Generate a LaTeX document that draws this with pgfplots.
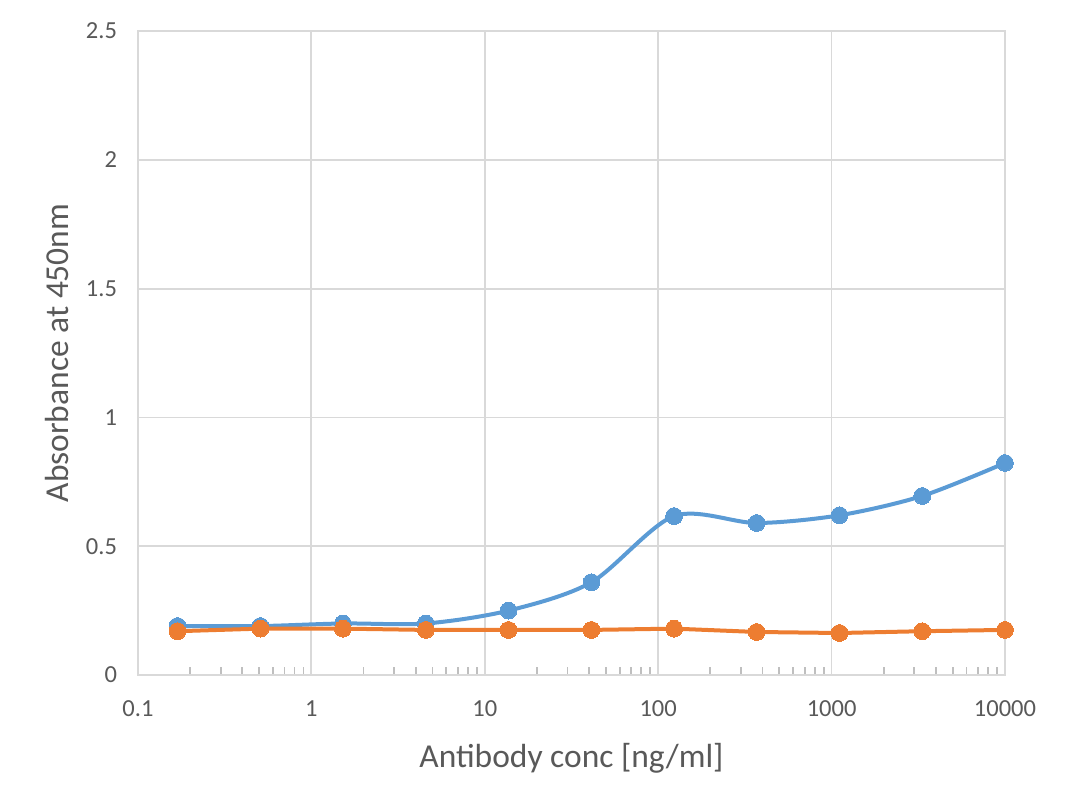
\documentclass[border=0pt]{standalone}
\usepackage{fontspec}
\setmainfont{Carlito}
\usepackage{pgfplots}
\pgfplotsset{compat=1.18}
\definecolor{eblue}{HTML}{5B9BD5}
\definecolor{eorange}{HTML}{ED7D31}
\definecolor{egrid}{HTML}{D9D9D9}
\definecolor{etick}{HTML}{BFBFBF}
\definecolor{etext}{HTML}{595959}
\begin{document}
\begin{tikzpicture}
\useasboundingbox (-69bp,-68.5bp) rectangle (471bp,337.5bp);
\begin{axis}[
  scale only axis,
  width=433.5bp, height=322bp,
  xmode=log, log basis x=10,
  xmin=0.1, xmax=10000, ymin=0, ymax=2.5,
  xtick={0.1,1,10,100,1000,10000},
  xticklabels={0.1,1,10,100,1000,10000},
  minor xtick={0.2,0.3,0.4,0.5,0.6,0.7,0.8,0.9,2,3,4,5,6,7,8,9,20,30,40,50,60,70,80,90,200,300,400,500,600,700,800,900,2000,3000,4000,5000,6000,7000,8000,9000},
  ytick={0,0.5,1,1.5,2,2.5},
  yticklabels={0,0.5,1,1.5,2,2.5},
  grid=major,
  major grid style={egrid, line width=0.9bp},
  axis line style={egrid, line width=0.9bp},
  major tick length=0pt,
  minor tick length=3.8bp,
  tick align=inside,
  xtick pos=bottom, ytick pos=left,
  minor tick style={etick, line width=0.9bp},
  ticklabel style={font=\fontsize{12.3}{12.3}\selectfont, text=etext},
  /pgf/number format/assume math mode=true,
  xticklabel style={yshift=-9.5bp},
  yticklabel style={xshift=-7bp},
  xlabel={Antibody conc [ng/ml]},
  ylabel={Absorbance at 450nm},
  label style={font=\fontsize{16.8}{16.8}\selectfont, text=etext},
  xlabel style={yshift=-6bp},
  ylabel style={yshift=2bp},
  clip=false,
]
\addplot[eblue, line width=2bp, smooth, tension=0.5, mark=*, mark size=4.2bp, mark options={fill=eblue, draw=eblue, line width=0pt}] coordinates {
(0.169,0.19) (0.508,0.19) (1.52,0.20) (4.57,0.20) (13.7,0.25) (41.2,0.36) (123.5,0.617) (370,0.59) (1111,0.62) (3333,0.695) (10000,0.823)
};
\addplot[eorange, line width=2bp, mark=*, mark size=4.2bp, mark options={fill=eorange, draw=eorange, line width=0pt}] coordinates {
(0.169,0.17) (0.508,0.18) (1.52,0.18) (4.57,0.175) (13.7,0.175) (41.2,0.175) (123.5,0.18) (370,0.167) (1111,0.163) (3333,0.17) (10000,0.175)
};
\end{axis}
\end{tikzpicture}
\end{document}
